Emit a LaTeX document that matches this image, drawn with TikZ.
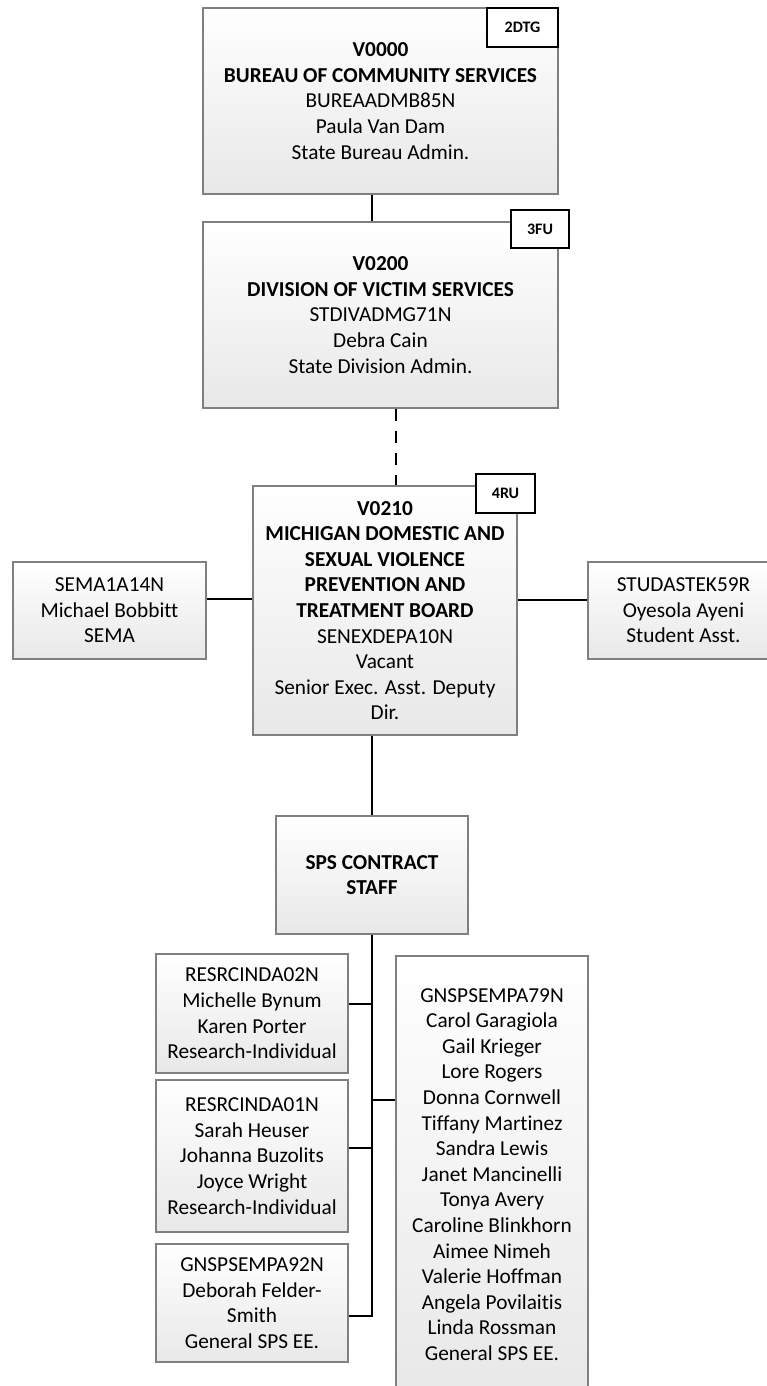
\documentclass[tikz,border=0pt]{standalone}
\usepackage{fontspec}
\setmainfont{Carlito}[Ligatures={NoCommon}]
\begin{document}
\begin{tikzpicture}[x=1pt,y=-1pt,
  box/.style={draw=black!50, line width=1.1pt, top color=white, bottom color=black!9,
    inner sep=0pt, align=center, font=\fontsize{21.3}{25.6}\selectfont},
  badge/.style={draw=black, line width=1.6pt, fill=white, inner sep=0pt,
    font=\fontsize{16}{19}\selectfont\bfseries},
  conn/.style={draw=black, line width=2pt},
  dconn/.style={conn, dash pattern=on 12pt off 10pt}
]
\useasboundingbox (0,0) rectangle (767,1386);
\clip (0,0) rectangle (767,1386);

% main boxes
\node[box, minimum width=355pt, minimum height=186pt] (b1) at (380.5,101)
  {\textbf{V0000}\\\textbf{BUREAU OF COMMUNITY SERVICES}\\BUREAADMB85N\\Paula Van Dam\\State Bureau Admin.};
\node[box, minimum width=355pt, minimum height=186pt] (b2) at (380.5,315)
  {\textbf{V0200}\\\textbf{DIVISION OF VICTIM SERVICES}\\STDIVADMG71N\\Debra Cain\\State Division Admin.};
\node[box, minimum width=264pt, minimum height=249pt] (b3) at (385,610.5)
  {\textbf{V0210}\\\textbf{MICHIGAN DOMESTIC AND}\\\textbf{SEXUAL VIOLENCE}\\\textbf{PREVENTION AND}\\\textbf{TREATMENT BOARD}\\SENEXDEPA10N\\Vacant\\Senior Exec. Asst. Deputy\\Dir.};
\node[box, minimum width=193pt, minimum height=97pt] (sl) at (109.5,610.5)
  {SEMA1A14N\\Michael Bobbitt\\SEMA};
\node[box, minimum width=191pt, minimum height=97pt] (sr) at (683.5,610.5)
  {STUDASTEK59R\\Oyesola Ayeni\\Student Asst.};
\node[box, minimum width=192pt, minimum height=118pt] (sps) at (372,875)
  {\textbf{SPS CONTRACT}\\\textbf{STAFF}};
\node[box, minimum width=192pt, minimum height=119pt] (r02) at (252,1013.5)
  {RESRCINDA02N\\Michelle Bynum\\Karen Porter\\Research-Individual};
\node[box, minimum width=192pt, minimum height=152pt] (r01) at (252,1156)
  {RESRCINDA01N\\Sarah Heuser\\Johanna Buzolits\\Joyce Wright\\Research-Individual};
\node[box, minimum width=192pt, minimum height=118pt] (g92) at (252,1303)
  {GNSPSEMPA92N\\Deborah Felder-\\Smith\\General SPS EE.};
\node[box, minimum width=192pt, minimum height=437pt] (g79) at (492,1174.5)
  {GNSPSEMPA79N\\Carol Garagiola\\Gail Krieger\\Lore Rogers\\Donna Cornwell\\Tiffany Martinez\\Sandra Lewis\\Janet Mancinelli\\Tonya Avery\\Caroline Blinkhorn\\Aimee Nimeh\\Valerie Hoffman\\Angela Povilaitis\\Linda Rossman\\General SPS EE.};

% badges
\node[badge, minimum width=71pt, minimum height=39pt] (bd1) at (522.5,27.5) {2DTG};
\node[badge, minimum width=58pt, minimum height=38pt] (bd2) at (540,229) {3FU};
\node[badge, minimum width=59pt, minimum height=39pt] (bd3) at (505.5,493.5) {4RU};

% helper coordinates
\coordinate (cx) at (372,0);
\coordinate (dx) at (396,0);
\coordinate (hl) at (0,599);
\coordinate (hr) at (0,600);
\coordinate (send) at (372,1316);
\coordinate (j02) at (372,1004);
\coordinate (j01) at (372,1148);
\coordinate (j79) at (372,1100);

% connectors
\draw[conn] (b1.south -| cx) -- (b2.north -| cx);
\draw[dconn] (b2.south -| dx) -- (b3.north -| dx);
\draw[conn] (sl.east |- hl) -- (b3.west |- hl);
\draw[conn] (b3.east |- hr) -- (sr.west |- hr);
\draw[conn] (b3.south -| cx) -- (sps.north);
\draw[conn] (sps.south) -- (send) -- (g92.east |- send);
\draw[conn] (j02) -- (r02.east |- j02);
\draw[conn] (j01) -- (r01.east |- j01);
\draw[conn] (j79) -- (g79.west |- j79);
\end{tikzpicture}
\end{document}
